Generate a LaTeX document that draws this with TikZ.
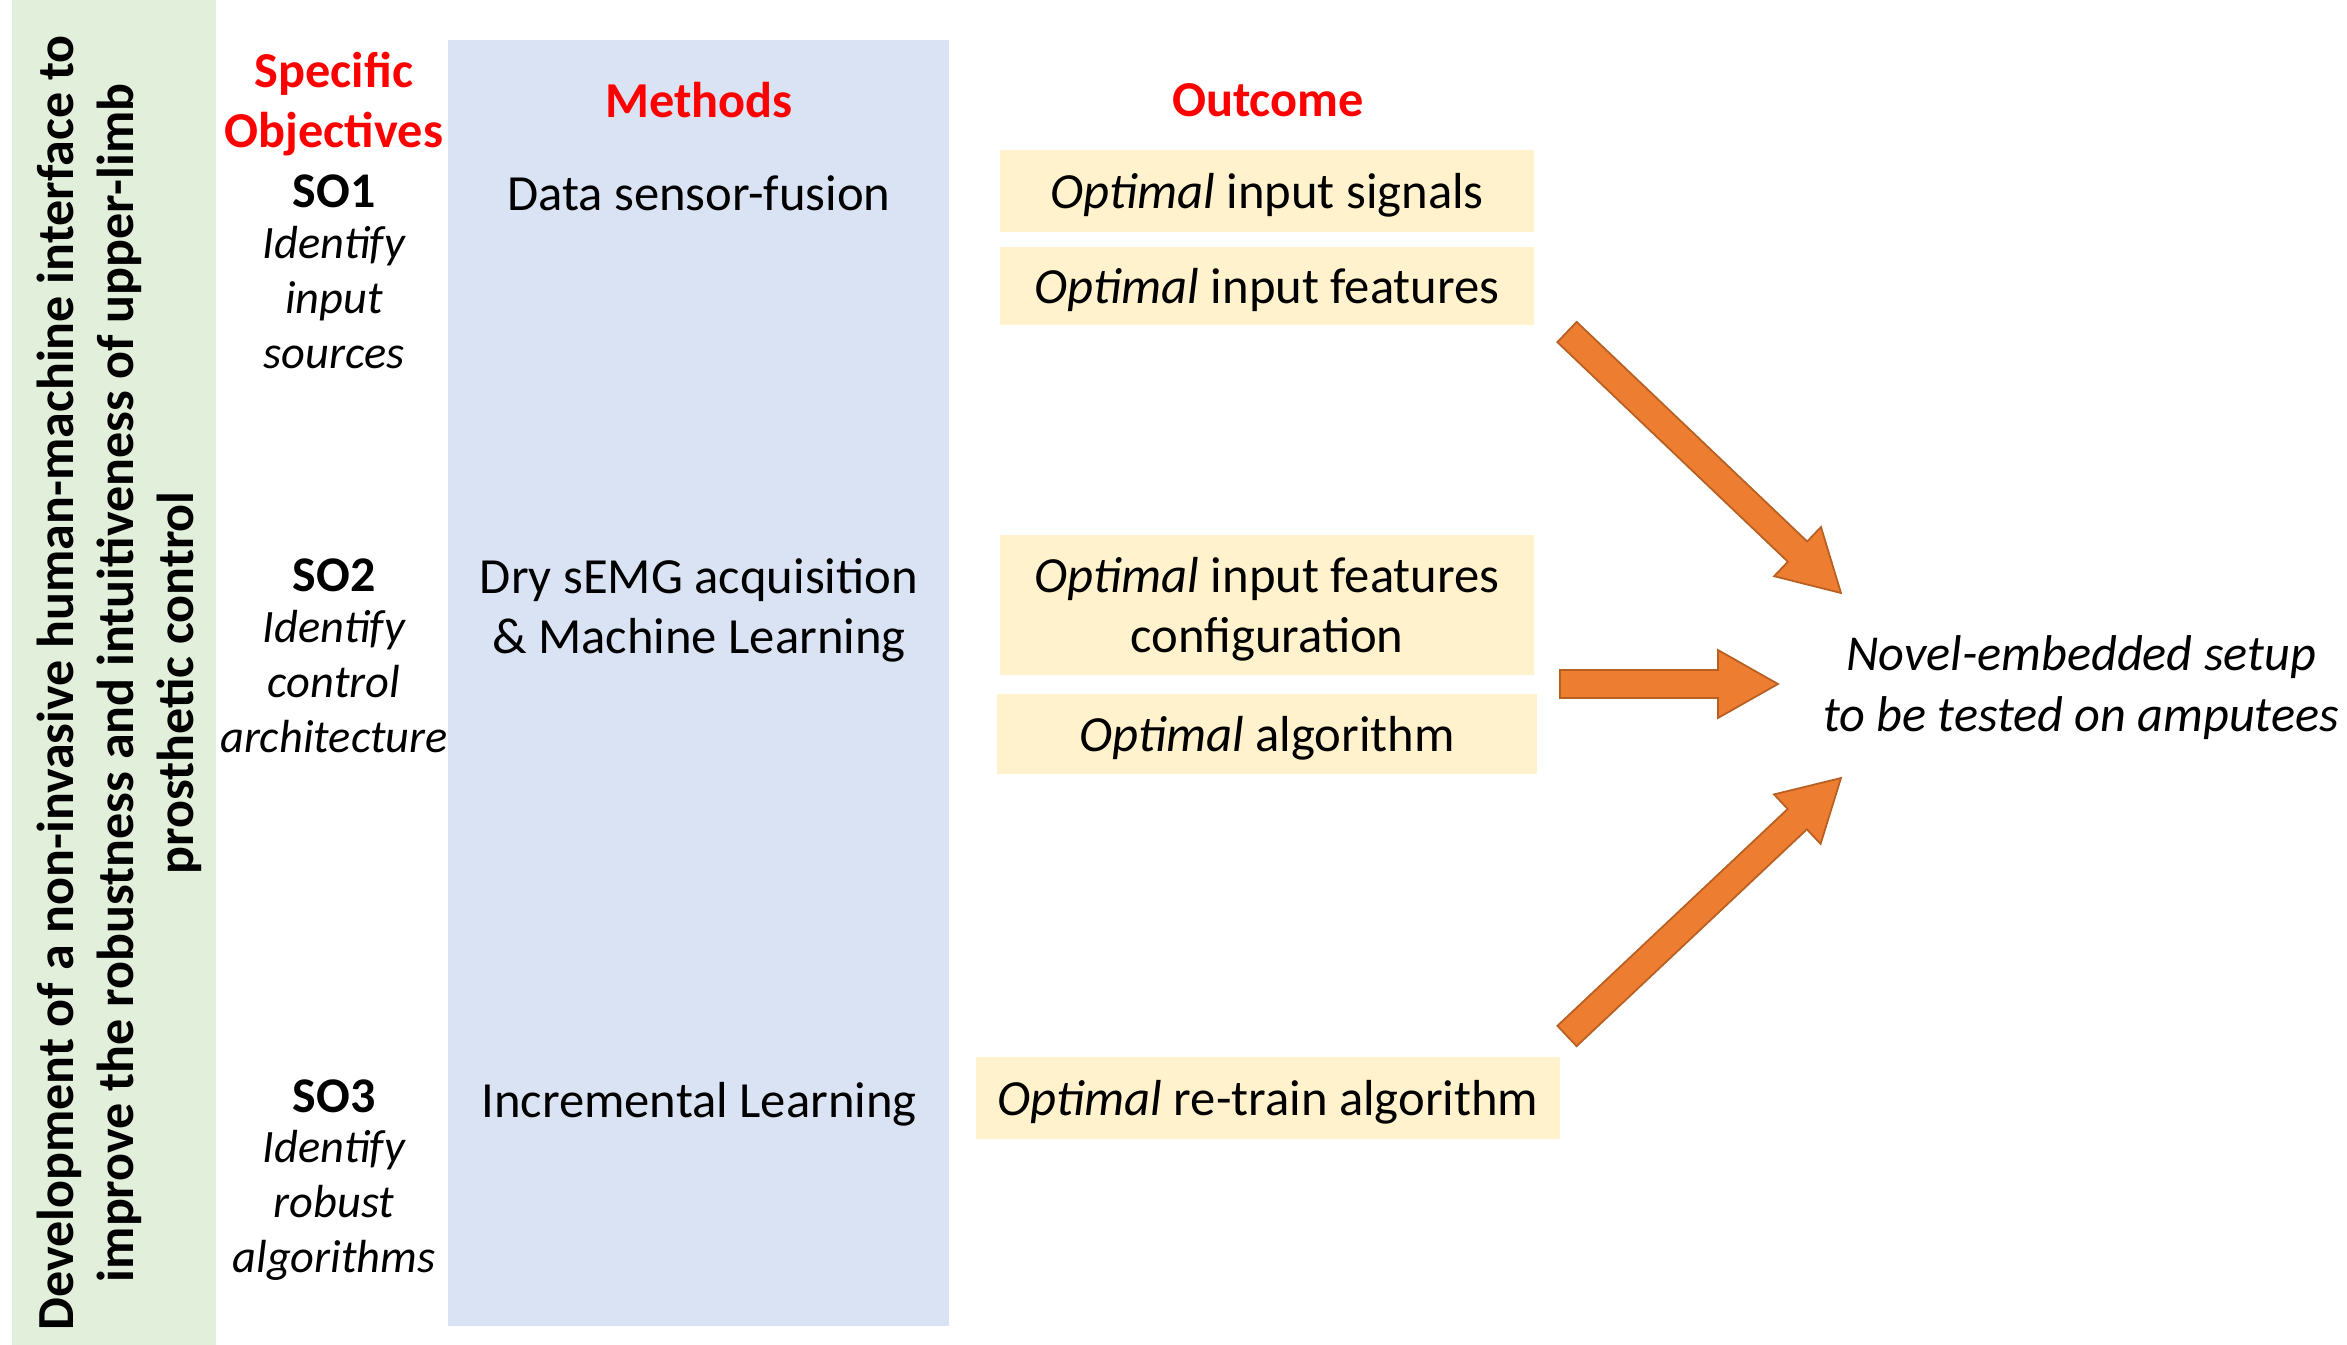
\documentclass[tikz,border=0pt]{standalone}
\usepackage{fontspec}
\setmainfont{Carlito}
\usepackage{tikz}
\usetikzlibrary{calc,positioning}
\definecolor{aimgreen}{HTML}{E2EFDA}
\definecolor{methblue}{HTML}{DAE3F3}
\definecolor{outyellow}{HTML}{FFF2CC}
\definecolor{arrorange}{HTML}{ED7D31}
\definecolor{arredge}{HTML}{B85F22}
\definecolor{headred}{HTML}{FF0000}

\newcommand{\sotag}[1]{{\fontsize{14.2pt}{15.65pt}\selectfont\upshape\bfseries #1}}
\newcommand{\fatarrow}[2]{%
  \coordinate (fah) at ($(#2)!17.07pt!(#1)$);
  \filldraw[fatarr] ($(#1)!3.98pt!90:(#2)$) -- ($(fah)!3.98pt!90:(#2)$)
    -- ($(fah)!9.67pt!90:(#2)$) -- (#2) -- ($(fah)!9.67pt!-90:(#2)$)
    -- ($(fah)!3.98pt!-90:(#2)$) -- ($(#1)!3.98pt!-90:(#2)$) -- cycle;}

\begin{document}
\begin{tikzpicture}[x=0.01cm,y=-0.01cm,
  txt/.style={font={\fontsize{14.4pt}{17.07pt}\selectfont},align=center,inner sep=0pt,text depth=0pt},
  head/.style={txt,font={\fontsize{14.3pt}{17.07pt}\selectfont\bfseries},text=headred},
  sotxt/.style={align=center,inner sep=0pt,font={\fontsize{13.2pt}{15.65pt}\selectfont\itshape}},
  outbox/.style={txt,fill=outyellow,minimum width=#1,minimum height=0.8cm},
  fatarr/.style={fill=arrorange,draw=arredge,line width=0.5pt,line join=miter}]
  \useasboundingbox (0,0) rectangle (2347,1345);

  % columns
  \fill[aimgreen] (12,0) rectangle (216,1345);
  \fill[methblue] (448,40) rectangle (949,1326);

  \node[txt,rotate=90,font={\fontsize{14.8pt}{17.07pt}\selectfont\bfseries}] (aim) at (115,683)
    {Development of a non-invasive human-machine interface to\\
     improve the robustness and intuitiveness of upper-limb\\
     prosthetic control};

  % headers
  \node[head] (objhead) at (334,100) {Specific\\Objectives};
  \node[head] (methhead) at (699,100) {Methods};
  \node[head] (outhead) at (1268,100) {Outcome};

  % objectives
  \node[sotxt] (so1) at (334,272) {\sotag{SO1}\\[-1.3pt]Identify\\input\\sources};
  \node[sotxt] (so2) at (334,656) {\sotag{SO2}\\[-1.3pt]Identify\\control\\architecture};
  \node[sotxt] (so3) at (334,1180) {\sotag{SO3}\\[-1.3pt]Identify\\robust\\algorithms};

  % methods
  \node[txt] (meth1) at (699,193) {Data sensor-fusion};
  \node[txt] (meth2) at (699,606) {Dry sEMG acquisition\\\& Machine Learning};
  \node[txt] (meth3) at (699,1100) {Incremental Learning};

  % outcomes
  \node[outbox=5.34cm,minimum height=0.81cm] (out1) at (1267,191) {\textit{Optimal} input signals};
  \node[outbox=5.34cm,minimum height=0.78cm] (out2) at (1267,286) {\textit{Optimal} input features};
  \node[outbox=5.34cm,minimum height=1.39cm] (out3) at (1267,605) {\textit{Optimal} input features\\configuration};
  \node[outbox=5.39cm,minimum height=0.79cm] (out4) at (1267,734) {\textit{Optimal} algorithm};
  \node[outbox=5.84cm,minimum height=0.81cm] (out5) at (1268,1098) {\textit{Optimal} re-train algorithm};

  \node[txt,font={\fontsize{14.3pt}{17.35pt}\selectfont\itshape}] (setup) at (2081,684)
    {Novel-embedded setup\\to be tested on amputees};

  % arrows into the setup
  \coordinate (a1s) at (1567,332);
  \coordinate (a1e) at (1841,593);
  \coordinate (a2s) at (1560,684);
  \coordinate (a2e) at (1778,684);
  \coordinate (a3s) at (1567,1036);
  \coordinate (a3e) at (1841,778);
  \fatarrow{a1s}{a1e}
  \fatarrow{a2s}{a2e}
  \fatarrow{a3s}{a3e}
\end{tikzpicture}
\end{document}
